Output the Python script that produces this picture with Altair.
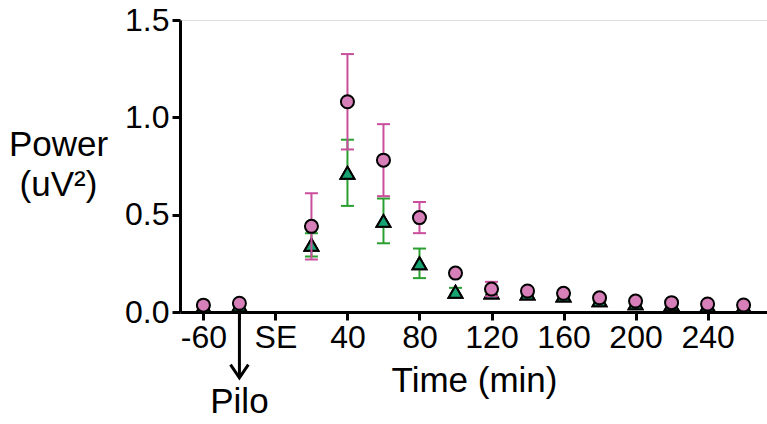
import altair as alt
import pandas as pd

# x positions (minutes relative to SE; -40 slot is labelled "-60", -20 slot is Pilo injection)
time_pos = [-40, -20, 20, 40, 60, 80, 100, 120, 140, 160, 180, 200, 220, 240, 260]
pink_mean = [0.035, 0.045, 0.44, 1.08, 0.78, 0.485, 0.20, 0.118, 0.108, 0.096, 0.073, 0.056, 0.048, 0.041, 0.036]
pink_sem = [0.005, 0.005, 0.17, 0.245, 0.185, 0.08, 0.015, 0.037, 0.015, 0.012, 0.01, 0.008, 0.006, 0.005, 0.004]
green_mean = [0.03, 0.035, 0.345, 0.715, 0.468, 0.25, 0.104, 0.1, 0.095, 0.085, 0.06, 0.045, 0.04, 0.035, 0.03]
green_sem = [0.004, 0.004, 0.06, 0.17, 0.115, 0.076, 0.02, 0.01, 0.01, 0.008, 0.008, 0.006, 0.005, 0.004, 0.004]

tick_values = [-40, -20, 0, 40, 80, 120, 160, 200, 240]
tick_labels = ["-60", "", "SE", "40", "80", "120", "160", "200", "240"]

pink_df = pd.DataFrame({"t": time_pos, "m": pink_mean,
                        "lo": [m - s for m, s in zip(pink_mean, pink_sem)],
                        "hi": [m + s for m, s in zip(pink_mean, pink_sem)]})
green_df = pd.DataFrame({"t": time_pos, "m": green_mean,
                         "lo": [m - s for m, s in zip(green_mean, green_sem)],
                         "hi": [m + s for m, s in zip(green_mean, green_sem)]})

label_expr = "{" + ", ".join(f"'{v}': '{l}'" for v, l in zip(tick_values, tick_labels)) + "}[toString(datum.value)]"

FONT = "Liberation Sans"
PINK_FILL = "#d67fb8"
PINK_BAR = "#c94f9c"
GREEN_FILL = "#18a373"
GREEN_BAR = "#2a9f2f"

xs = alt.Scale(domain=[-53, 273], nice=False, zero=False)
ys = alt.Scale(domain=[0, 1.5], nice=False)

x_axis = alt.Axis(values=tick_values, labelExpr=label_expr, title="Time (min)",
                  labelFontSize=32, titleFontSize=35, labelFont=FONT, titleFont=FONT,
                  titleFontWeight="normal", domainWidth=3, tickWidth=3, tickSize=8,
                  domainColor="black", tickColor="black", labelColor="black", titleColor="black",
                  labelPadding=2, grid=False, titleX=294, titleY=79,
                  titleBaseline="alphabetic", titleAlign="center")
y_axis = alt.Axis(values=[0, 0.5, 1.0, 1.5], format=".1f", title=["Power", "(uV²)"],
                  labelFontSize=32, titleFontSize=35, labelFont=FONT, titleFont=FONT,
                  titleFontWeight="normal", domainWidth=3, tickWidth=3, tickSize=8,
                  domainColor="black", tickColor="black", labelColor="black", titleColor="black",
                  labelPadding=3, grid=False, titleAngle=0, titleX=-122, titleY=135,
                  titleAlign="center", titleBaseline="alphabetic", titleLineHeight=40)

base_x = alt.X("t:Q", scale=xs, axis=x_axis)

def bars(df, color):
    b = alt.Chart(df)
    rule = b.mark_rule(color=color, strokeWidth=2).encode(
        x=alt.X("t:Q", scale=xs), y=alt.Y("lo:Q", scale=ys), y2="hi:Q")
    cap_lo = b.mark_tick(color=color, orient="horizontal", size=13, thickness=2, opacity=1).encode(
        x=alt.X("t:Q", scale=xs), y=alt.Y("lo:Q", scale=ys))
    cap_hi = b.mark_tick(color=color, orient="horizontal", size=13, thickness=2, opacity=1).encode(
        x=alt.X("t:Q", scale=xs), y=alt.Y("hi:Q", scale=ys))
    return rule + cap_lo + cap_hi

green_pts = alt.Chart(green_df).mark_point(shape="triangle-up", filled=True, fill=GREEN_FILL,
                                           stroke="black", strokeWidth=2, size=190, opacity=1).encode(
    x=base_x, y=alt.Y("m:Q", scale=ys, axis=y_axis))
pink_pts = alt.Chart(pink_df).mark_point(shape="circle", filled=True, fill=PINK_FILL,
                                         stroke="black", strokeWidth=2, size=170, opacity=1).encode(
    x=alt.X("t:Q", scale=xs), y=alt.Y("m:Q", scale=ys))

pilo_df = pd.DataFrame({"t": [-20], "label": ["Pilo"]})
arrow_line = alt.Chart(pilo_df).mark_rule(color="black", strokeWidth=3).encode(
    x=alt.X("t:Q", scale=xs), y=alt.value(292), y2=alt.value(357))
arrow_head = alt.Chart(pilo_df).mark_point(shape="M-0.85,-0.6L0,0.65L0.85,-0.6", filled=False,
                                           stroke="black", strokeWidth=3, size=440, opacity=1).encode(
    x=alt.X("t:Q", scale=xs), y=alt.value(351))
pilo_text = alt.Chart(pilo_df).mark_text(font=FONT, fontSize=35, color="black", align="center",
                                         baseline="alphabetic").encode(
    x=alt.X("t:Q", scale=xs), y=alt.value(393), text="label:N")

chart = alt.layer(
    green_pts, bars(green_df, GREEN_BAR), green_pts, bars(pink_df, PINK_BAR), pink_pts,
    arrow_line, arrow_head, pilo_text
).properties(
    width=587, height=292,
    autosize=alt.AutoSizeParams(type="none"),
    padding={"left": 180, "top": 20, "right": 0, "bottom": 112},
).configure_view(strokeWidth=0).configure(background="white")

chart.save("out.html", embed_options={"renderer": "svg", "actions": False})
